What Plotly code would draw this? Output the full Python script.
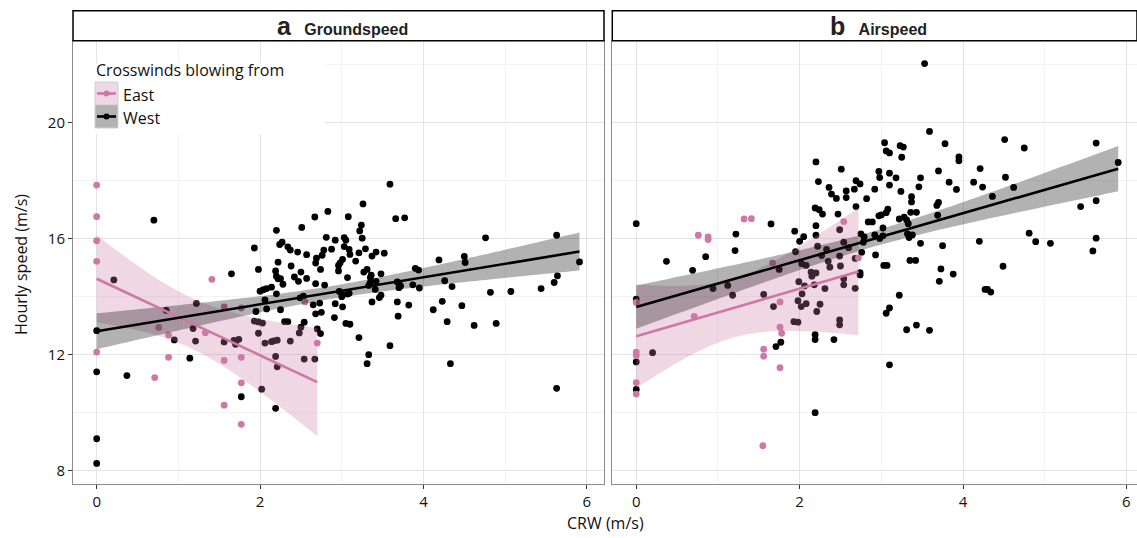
import numpy as np
import plotly.graph_objects as go

# ---------------- data ----------------
# Panel a: Groundspeed
gs_east_x = [0, 0, 0, 0, 0, 0.71, 0.76, 0.88, 0.88, 1.33, 1.41, 1.56, 1.56, 1.56, 1.77, 1.77, 1.77, 1.77, 2.55, 2.70]
gs_east_y = [17.84, 16.75, 15.92, 15.21, 12.08, 11.2, 12.93, 12.67, 11.9, 12.75, 14.59, 13.64, 11.79, 10.25, 13.6, 11.9, 11.02, 9.59, 13.81, 12.39]

gs_west_pts = [
    (0, 12.82), (0, 11.4), (0, 9.09), (0, 8.24), (0.21, 14.57), (0.7, 16.63), (0.37, 11.27), (0.85, 13.52), (0.95, 12.5),
    (2.83, 16.93), (2.67, 16.74), (2.51, 16.38), (2.2, 16.28), (2.81, 16.04), (1.93, 15.67), (2.24, 15.79), (2.27, 15.87),
    (2.34, 15.71), (2.37, 15.6), (2.46, 15.53), (2.57, 15.44), (2.78, 15.6), (2.76, 15.42), (2.69, 15.32), (2.68, 15.15),
    (2.22, 15.18), (2.38, 15.05), (2.74, 14.93), (2.5, 14.84), (2.42, 14.67), (2.47, 14.52), (2.57, 14.62), (1.98, 14.93),
    (1.65, 14.78), (2.19, 14.88), (2.2, 14.7), (2.22, 14.61), (2.25, 14.61), (2.28, 14.42), (2.68, 14.44), (2.79, 14.39),
    (2.0, 14.18), (2.04, 14.23), (2.08, 14.27), (2.14, 14.32), (2.2, 14.09), (2.06, 13.88), (2.49, 13.95), (2.53, 14.01),
    (2.65, 13.71), (2.73, 13.77), (2.08, 13.57), (2.25, 13.54), (1.95, 13.48), (2.68, 13.4), (2.75, 13.45), (1.93, 13.15),
    (1.98, 13.12), (2.03, 13.08), (2.3, 13.13), (2.34, 13.13), (2.54, 13.11), (2.5, 12.94), (2.48, 12.74), (2.7, 12.88),
    (2.74, 12.72), (1.22, 13.76), (1.18, 12.89), (1.21, 12.46), (1.56, 12.43), (1.68, 12.48), (1.74, 12.52), (1.7, 12.35),
    (1.98, 12.73), (2.06, 12.39), (2.14, 12.44), (2.17, 12.47), (2.21, 12.49), (2.37, 12.46), (1.14, 11.87), (2.19, 11.93),
    (2.21, 11.57), (2.54, 11.84), (2.67, 11.84), (1.77, 10.54), (2.02, 10.8), (2.19, 10.14),
    (3.59, 17.87), (3.26, 17.19), (3.08, 16.75), (3.66, 16.68), (3.77, 16.71), (3.24, 16.46), (3.22, 16.26), (3.25, 16.01),
    (2.92, 15.94), (3.03, 16.03), (3.05, 15.94), (3.03, 15.72), (3.09, 15.62), (3.1, 15.45), (2.875, 15.63), (3.21, 15.5),
    (3.29, 15.64), (3.42, 15.53), (3.37, 15.39), (3.52, 15.49), (3.01, 15.28), (2.98, 15.16), (2.96, 15.07), (2.96, 14.88),
    (3.17, 15.22), (3.31, 14.93), (3.27, 14.84), (3.36, 14.73), (3.35, 14.65), (3.48, 14.78), (3.07, 14.65), (3.33, 14.38),
    (3.35, 14.48), (3.42, 14.52), (3.41, 14.24), (3.70, 14.45), (3.72, 14.36), (3.70, 14.3), (3.68, 14.5), (3.87, 14.4),
    (3.9, 14.97), (3.94, 14.91), (3.95, 14.29), (4.19, 15.26), (4.26, 14.54), (4.35, 14.34), (4.5, 15.38), (4.51, 15.17),
    (2.97, 14.17), (3.01, 14.05), (3.07, 14.08), (3.09, 14.11), (3.0, 13.99), (2.92, 13.75), (3.01, 13.64), (2.91, 13.27),
    (3.05, 13.07), (3.1, 13.04), (3.37, 13.81), (3.48, 14.04), (3.46, 13.96), (3.68, 13.81), (3.82, 13.7), (3.69, 13.32),
    (4.12, 13.54), (4.23, 13.83), (4.29, 13.13), (4.47, 13.68), (3.21, 12.58), (3.59, 12.3), (3.33, 11.99), (3.31, 11.68),
    (4.33, 11.68),
    (4.76, 16.02), (5.63, 16.11), (5.91, 15.19), (5.64, 14.71), (5.6, 14.48), (5.44, 14.27), (5.07, 14.17), (4.82, 14.14),
    (4.62, 13.0), (4.89, 13.07), (5.63, 10.83),
]
gs_west_x = [p[0] for p in gs_west_pts]
gs_west_y = [p[1] for p in gs_west_pts]

# Panel b: Airspeed
as_east_x = [0, 0, 0, 0, 0, 0.71, 0.76, 0.88, 0.88, 1.32, 1.41, 1.55, 1.56, 1.56, 1.67, 1.76, 1.76, 1.76, 1.78, 2.54, 2.72]
as_east_y = [13.79, 12.08, 11.96, 11.03, 10.63, 13.31, 16.11, 16.05, 15.96, 16.67, 16.68, 8.85, 12.18, 11.94, 15.15, 13.81, 12.94, 11.54, 12.73, 16.58, 15.33]

as_west_pts = [
    (0, 16.51), (0, 13.91), (0, 11.74), (0, 10.79), (0.2, 12.06), (0.37, 15.21), (0.69, 14.9), (0.85, 15.37), (0.94, 14.27), (1.12, 14.38),
    (2.2, 18.64), (2.51, 18.39), (2.23, 17.96), (2.36, 17.76), (2.39, 17.53), (2.45, 17.38), (2.57, 17.64), (2.57, 17.41),
    (2.19, 17.05), (2.24, 16.99), (2.28, 16.84), (2.47, 16.84), (2.2, 16.44), (2.2, 16.11), (1.65, 16.5), (1.22, 16.15),
    (1.21, 15.58), (1.94, 16.25), (2.05, 16.06), (2.0, 15.9), (1.95, 15.54), (2.22, 15.73), (2.33, 15.62), (2.27, 15.41),
    (2.49, 16.3), (2.54, 15.87), (2.6, 15.68), (2.35, 15.21), (2.37, 15.01), (2.49, 15.39), (2.5, 15.05), (2.025, 15.13),
    (2.08, 15.07), (1.75, 14.93), (2.14, 14.84), (2.2, 14.81), (2.15, 14.7), (2.18, 14.4), (2.31, 14.27), (1.99, 14.51),
    (2.06, 14.36), (2.03, 14.09), (2.54, 14.61), (2.54, 14.4), (1.18, 14.04), (1.56, 14.07), (1.68, 13.65), (1.98, 13.85),
    (2.08, 13.75), (2.02, 13.65), (2.21, 13.48), (2.25, 13.73), (1.93, 13.13), (1.98, 13.11), (2.49, 13.19), (2.49, 13.02),
    (2.19, 12.68), (2.19, 12.51), (2.42, 12.51), (1.71, 12.27), (1.77, 12.42), (2.19, 9.99),
    (3.59, 19.69), (3.78, 19.27), (3.04, 19.3), (3.06, 19.02), (3.1, 18.95), (3.23, 19.2), (3.27, 19.15), (3.25, 18.8),
    (3.95, 18.81), (3.95, 18.68), (2.97, 18.31), (2.98, 18.1), (3.1, 18.25), (3.1, 17.84), (3.18, 18.09), (3.7, 18.33),
    (3.48, 18.09), (3.46, 17.78), (3.83, 17.94), (3.92, 17.69), (2.69, 17.99), (2.74, 17.88), (2.67, 17.7), (2.92, 17.7),
    (2.82, 17.37), (3.24, 17.62), (3.37, 17.44), (3.37, 17.26), (2.69, 17.1), (3.08, 17.01), (3.06, 16.89), (2.97, 16.78),
    (3.0, 16.81), (2.84, 16.57), (2.89, 16.57), (3.22, 16.67), (3.28, 16.73), (3.31, 16.64), (3.33, 16.51), (3.36, 16.9),
    (3.43, 16.9), (3.68, 17.14), (3.7, 17.24), (3.69, 16.8), (3.02, 16.36), (2.75, 16.16), (2.79, 16.05), (2.78, 15.87),
    (2.92, 16.12), (2.98, 16.0), (3.02, 16.09), (3.34, 16.03), (3.38, 16.12), (3.32, 16.16), (2.76, 15.52), (2.93, 15.43),
    (3.48, 15.83), (3.75, 15.75), (3.03, 15.07), (3.07, 15.07), (3.35, 15.24), (3.42, 15.24), (3.73, 14.95), (3.71, 14.52),
    (3.88, 14.77), (2.74, 14.82), (2.74, 14.74), (2.68, 14.28), (2.68, 15.31), (3.22, 14.04), (3.1, 13.6), (3.06, 13.42),
    (3.31, 12.85), (3.43, 13.01), (3.59, 12.83), (3.1, 11.64), (3.53, 22.03),
    (4.51, 19.41), (4.75, 19.12), (5.63, 19.29), (4.21, 18.41), (4.13, 17.94), (4.24, 17.77), (4.52, 18.11), (4.62, 17.76),
    (4.36, 17.45), (5.9, 18.62), (5.44, 17.1), (5.63, 17.3), (4.2, 15.9), (4.81, 16.18), (4.89, 15.89), (5.07, 15.83),
    (5.63, 16.01), (5.59, 15.57), (4.49, 15.04), (4.27, 14.24), (4.3, 14.24), (4.34, 14.15),
]
as_west_x = [p[0] for p in as_west_pts]
as_west_y = [p[1] for p in as_west_pts]

panel_titles = [("a", "Groundspeed"), ("b", "Airspeed")]
group_names = ["East", "West"]
x_ticks = [0, 2, 4, 6]
y_ticks = [8, 12, 16, 20]

# ---------------- styling ----------------
PINK = "#CC79A7"
BLACK = "#000000"
FILL = {"East": "rgba(204,121,167,0.3)", "West": "rgba(0,0,0,0.3)"}
COL = {"East": PINK, "West": BLACK}
FONT = "Open Sans"

W, H = 1137, 538
ML, MR, MT, MB = 73, 0, 41, 54
PW = W - ML - MR
PH = H - MT - MB


def px(x):
    return (x - ML) / PW


def py(y):
    return 1 - (y - MT) / PH


def tq(df):
    z = 1.959964
    return z + (z**3 + z) / (4 * df) + (5 * z**5 + 16 * z**3 + 3 * z) / (96 * df**2)


def lm_band(x, y):
    x = np.asarray(x, float)
    y = np.asarray(y, float)
    n = len(x)
    xm, ym = x.mean(), y.mean()
    sxx = ((x - xm) ** 2).sum()
    b = ((x - xm) * (y - ym)).sum() / sxx
    a = ym - b * xm
    s = np.sqrt(((y - a - b * x) ** 2).sum() / (n - 2))
    xs = np.linspace(x.min(), x.max(), 80)
    fitv = a + b * xs
    se = s * np.sqrt(1 / n + (xs - xm) ** 2 / sxx)
    t = tq(n - 2)
    return xs, fitv, fitv - t * se, fitv + t * se


fig = go.Figure()

panels = [
    ("x", "y", {"East": (gs_east_x, gs_east_y), "West": (gs_west_x, gs_west_y)}),
    ("x2", "y2", {"East": (as_east_x, as_east_y), "West": (as_west_x, as_west_y)}),
]

for xa, ya, data in panels:
    for g in ["West", "East"]:
        gx, gy = data[g]
        fig.add_trace(go.Scatter(x=gx, y=gy, mode="markers", xaxis=xa, yaxis=ya,
                                 marker=dict(color=COL[g], size=6.8, line=dict(width=0)),
                                 showlegend=False, hoverinfo="skip"))
    fits = {}
    for g in ["East", "West"]:
        gx, gy = data[g]
        xs, fv, lo, hi = lm_band(gx, gy)
        fits[g] = (xs, fv)
        fig.add_trace(go.Scatter(x=np.concatenate([xs, xs[::-1]]), y=np.concatenate([hi, lo[::-1]]),
                                 mode="none", fill="toself", fillcolor=FILL[g], xaxis=xa, yaxis=ya,
                                 showlegend=False, hoverinfo="skip"))
    for g in ["East", "West"]:
        xs, fv = fits[g]
        fig.add_trace(go.Scatter(x=xs, y=fv, mode="lines", line=dict(color=COL[g], width=2.6),
                                 xaxis=xa, yaxis=ya, showlegend=False, hoverinfo="skip"))

axis_common = dict(showgrid=True, gridcolor="#E3E3E3", gridwidth=1, zeroline=False,
                   showline=True, mirror=True, linecolor="#8C8C8C", linewidth=1,
                   tickfont=dict(family=FONT, size=15, color="#111111"))
tick_style = dict(ticks="outside", ticklen=4, tickwidth=1, tickcolor="#333333")

dom_left = [0, px(604)]
dom_right = [px(612.3), 1]

fig.update_layout(
    width=W, height=H, margin=dict(l=ML, r=MR, t=MT, b=MB, autoexpand=False),
    paper_bgcolor="white", plot_bgcolor="white", showlegend=False,
    xaxis=dict(domain=dom_left, range=[-0.29, 6.21], tickvals=x_ticks, anchor="y",
               minor=dict(showgrid=True, gridcolor="#F3F3F3", dtick=1, tick0=0), **axis_common, **tick_style),
    xaxis2=dict(domain=dom_right, range=[-0.293, 6.13], tickvals=x_ticks, anchor="y2",
                minor=dict(showgrid=True, gridcolor="#F3F3F3", dtick=1, tick0=0), **axis_common, **tick_style),
    yaxis=dict(domain=[0, 1], range=[7.53, 22.81], tickvals=y_ticks, anchor="x",
               minor=dict(showgrid=True, gridcolor="#F3F3F3", dtick=2, tick0=0), **axis_common, **tick_style),
    yaxis2=dict(domain=[0, 1], range=[7.53, 22.81], tickvals=y_ticks, anchor="x2", showticklabels=False,
                ticks="", minor=dict(showgrid=True, gridcolor="#F3F3F3", dtick=2, tick0=0), **axis_common),
)

shapes = []
annotations = []

# strips
for (lab, name), (x0, x1) in zip(panel_titles, [(73, 604), (612.3, 1137)]):
    shapes.append(dict(type="rect", xref="paper", yref="paper", x0=px(x0), x1=px(x1),
                       y0=py(40.7), y1=py(10.7), line=dict(color="black", width=1.5), fillcolor="white", layer="above"))
    annotations.append(dict(xref="paper", yref="paper", x=px((x0 + x1) / 2 + 4), y=py(26), showarrow=False,
                            xanchor="center", yanchor="middle",
                            text=f"<b><span style='font-size:25px'>{lab}</span>&nbsp;&nbsp;&nbsp;{name}</b>",
                            font=dict(family="Liberation Sans", size=16, color="#222222")))

# legend (drawn inside panel a)
shapes.append(dict(type="rect", xref="paper", yref="paper", x0=px(74), x1=px(325), y0=py(134), y1=py(63),
                   line=dict(width=0), fillcolor="white", layer="above"))
annotations.append(dict(xref="paper", yref="paper", x=px(94), y=py(70), showarrow=False, xanchor="left",
                        yanchor="middle", text="Crosswinds blowing from",
                        font=dict(family=FONT, size=16, color="#111111")))
for i, g in enumerate(group_names):
    top = 82 + i * 23
    shapes.append(dict(type="rect", xref="paper", yref="paper", x0=px(95), x1=px(118), y0=py(top + 23), y1=py(top),
                       line=dict(color="#D0D0D0", width=1), fillcolor=FILL[g], layer="above"))
    cy = top + 11.5
    shapes.append(dict(type="line", xref="paper", yref="paper", x0=px(97), x1=px(116), y0=py(cy), y1=py(cy),
                       line=dict(color=COL[g], width=2.6), layer="above"))
    shapes.append(dict(type="circle", xref="paper", yref="paper", x0=px(103.5), x1=px(109.5), y0=py(cy + 3), y1=py(cy - 3),
                       line=dict(width=0), fillcolor=COL[g], layer="above"))
    annotations.append(dict(xref="paper", yref="paper", x=px(121), y=py(cy + 1), showarrow=False, xanchor="left",
                            yanchor="middle", text=g, font=dict(family=FONT, size=16, color="#111111")))

# axis titles
annotations.append(dict(xref="paper", yref="paper", x=px(605), y=py(523), showarrow=False, xanchor="center",
                        yanchor="middle", text="CRW (m/s)", font=dict(family=FONT, size=16, color="#111111")))
annotations.append(dict(xref="paper", yref="paper", x=px(21), y=py(265), showarrow=False, xanchor="center",
                        yanchor="middle", textangle=-90, text="Hourly speed (m/s)",
                        font=dict(family=FONT, size=16, color="#111111")))

fig.update_layout(shapes=shapes, annotations=annotations)
fig.write_html("out.html", config={"displayModeBar": False},
               post_script="document.body.style.margin='0';document.body.style.overflow='hidden';")
